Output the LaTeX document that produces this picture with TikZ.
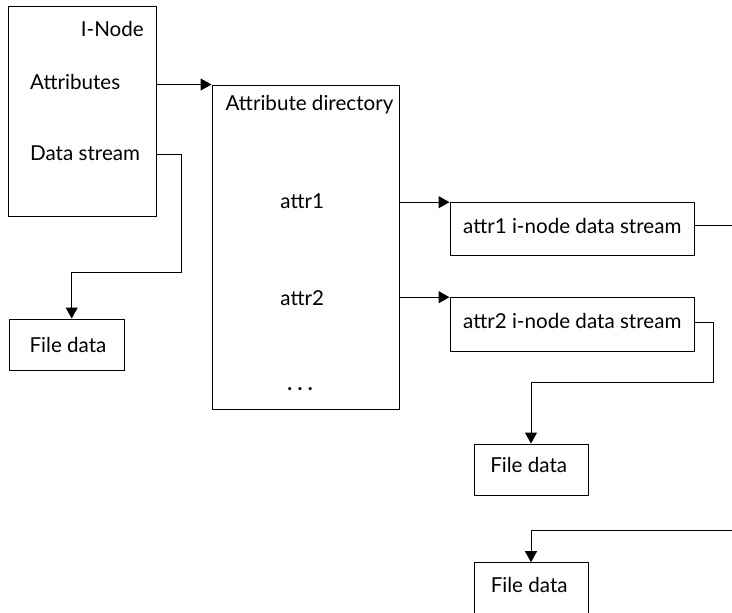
\documentclass[tikz,border=0pt]{standalone}
\usepackage{fontspec}
\setmainfont{Lato}
\usetikzlibrary{arrows.meta}
\begin{document}
\begin{tikzpicture}[x=1pt,y=-1pt,
  box/.style={draw,line width=1pt,inner sep=0pt,minimum width=#1},
  lbl/.style={inner sep=0pt,font=\fontsize{20.6}{24}\selectfont},
  conn/.style={line width=1pt},
  arr/.style={line width=1pt,-{Triangle[length=11pt,width=12pt]}}]
\useasboundingbox (0,0) rectangle (732,613);
% boxes
\node[box=147.5pt,minimum height=210pt] (inode) at (82.25,111) {};
\node[box=187.7pt,minimum height=324.7pt] (attrdir) at (305.85,247.35) {};
\node[box=114.3pt,minimum height=51.7pt] (file1) at (66.85,344.85) {};
\node[box=244pt,minimum height=52.3pt] (a1) at (572,228.85) {};
\node[box=244pt,minimum height=53.3pt] (a2) at (572,324.35) {};
\node[box=114pt,minimum height=51.7pt] (file2) at (531,469.85) {};
\node[box=114pt,minimum height=52pt] (file3) at (531,588.7) {};
% labels
\node[lbl,anchor=base east] (t-inode) at (144,36) {I-Node};
\node[lbl,anchor=base west] (t-attr) at (30,89.3) {Attributes};
\node[lbl,anchor=base west] (t-ds) at (30,160) {Data stream};
\node[lbl,anchor=base] (t-dir) at (309.5,110.7) {Attribute directory};
\node[lbl,anchor=base] (t-attr1) at (302.2,208) {attr1};
\node[lbl,anchor=base] (t-attr2) at (302.3,305) {attr2};
\node[lbl,anchor=base] (t-dots) at (300,390) {\textbf{.\hspace{0.26em}.\hspace{0.26em}.}};
\node[lbl,anchor=base] (t-a1) at (572.3,233.3) {attr1 i-node data stream};
\node[lbl,anchor=base] (t-a2) at (572.3,328.3) {attr2 i-node data stream};
\node[lbl,anchor=base] (t-f1) at (68,352.3) {File data};
\node[lbl,anchor=base] (t-f2) at (528.7,472.7) {File data};
\node[lbl,anchor=base] (t-f3) at (529.2,592.7) {File data};
% helper points
\coordinate (dsy) at (0,154);
\coordinate (ds-bend) at (181.5,154);
\coordinate (ds-low) at (71.7,272.7);
\coordinate (out1) at (732,225.7);
\coordinate (a2y) at (0,322.7);
\coordinate (a2-bend) at (713.3,322.7);
\coordinate (a2-low) at (0,382.7);
\coordinate (in3) at (732,530);
% connectors
\draw[arr] (inode.east |- attrdir.north west) -- (attrdir.north west);
\draw[arr] (inode.east |- dsy) -- (ds-bend) |- (ds-low) -- (ds-low |- file1.north);
\draw[arr] (attrdir.east |- a1.north west) -- (a1.north west);
\draw[arr] (attrdir.east |- a2.north west) -- (a2.north west);
\draw[conn] (a1.east |- out1) -- (out1);
\draw[arr] (a2.east |- a2y) -- (a2-bend) |- (file2.north |- a2-low) -- (file2.north);
\draw[arr] (in3) -| (file3.north);
\end{tikzpicture}
\end{document}
